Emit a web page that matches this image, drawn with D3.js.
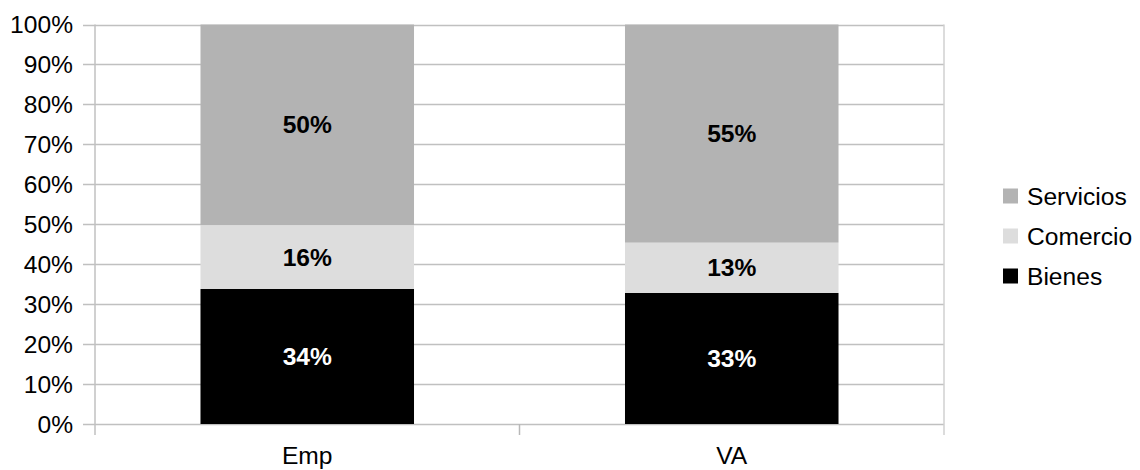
<!DOCTYPE html>
<html>
<head>
<meta charset="utf-8">
<script src="https://cdn.jsdelivr.net/npm/d3@7"></script>
<style>
  body { margin: 0; background: #fff; }
  svg { display: block; font-family: "Liberation Sans", Arial, sans-serif; }
</style>
</head>
<body>
<svg id="chart" width="1140" height="470"></svg>
<script>
// chart data
const categories = ['Emp', 'VA'];
const seriesNames = ['Bienes', 'Comercio', 'Servicios'];
const bienes = [0.338, 0.328];
const comercio = [0.160, 0.126];
const servicios = [0.502, 0.546];
const yTicks = [0, 0.1, 0.2, 0.3, 0.4, 0.5, 0.6, 0.7, 0.8, 0.9, 1];

const colors = { Bienes: '#000000', Comercio: '#dddddd', Servicios: '#b3b3b3' };
const labelColors = { Bienes: '#ffffff', Comercio: '#000000', Servicios: '#000000' };

const margin = { top: 24.5, left: 95, right: 196, bottom: 46 };
const width = 1140, height = 470;
const fontSize = 24.6;

const svg = d3.select('#chart');

const x = d3.scaleBand()
  .domain(categories)
  .range([margin.left, width - margin.right])
  .paddingInner(0.497)
  .paddingOuter(0.2485);

const y = d3.scaleLinear()
  .domain([0, 1])
  .range([height - margin.bottom, margin.top]);

const table = categories.map((c, i) => ({
  cat: c, Bienes: bienes[i], Comercio: comercio[i], Servicios: servicios[i]
}));
const stacked = d3.stack().keys(seriesNames)(table);

// gridlines + left ticks
svg.append('g')
  .selectAll('line')
  .data(yTicks)
  .join('line')
  .attr('x1', margin.left - 12)
  .attr('x2', width - margin.right)
  .attr('y1', d => Math.round(y(d)) + 0.5)
  .attr('y2', d => Math.round(y(d)) + 0.5)
  .attr('stroke', '#c0c0c0')
  .attr('stroke-width', 1.5);

// right border
svg.append('line')
  .attr('x1', width - margin.right).attr('x2', width - margin.right)
  .attr('y1', y(1)).attr('y2', y(0) + 11)
  .attr('stroke', '#d0d0d0')
  .attr('stroke-width', 1.5);

// y axis line
svg.append('line')
  .attr('x1', margin.left).attr('x2', margin.left)
  .attr('y1', y(1)).attr('y2', y(0) + 11)
  .attr('stroke', '#c0c0c0')
  .attr('stroke-width', 1.5);

// x category ticks
svg.append('g')
  .selectAll('line')
  .data(categories.slice(1))
  .join('line')
  .attr('x1', d => x(d) - x.step() * x.paddingInner() / 2)
  .attr('x2', d => x(d) - x.step() * x.paddingInner() / 2)
  .attr('y1', y(0))
  .attr('y2', y(0) + 11)
  .attr('stroke', '#b8b8b8')
  .attr('stroke-width', 1.5);

// y labels
svg.append('g')
  .selectAll('text')
  .data(yTicks)
  .join('text')
  .attr('x', 73)
  .attr('y', d => y(d))
  .attr('dy', '0.35em')
  .attr('text-anchor', 'end')
  .attr('font-size', fontSize)
  .attr('fill', '#000')
  .text(d3.format('.0%'));

// bars
const layer = svg.append('g')
  .selectAll('g')
  .data(stacked)
  .join('g')
  .attr('fill', d => colors[d.key]);

layer.selectAll('rect')
  .data(d => d)
  .join('rect')
  .attr('x', d => x(d.data.cat))
  .attr('width', x.bandwidth())
  .attr('y', d => y(d[1]))
  .attr('height', d => y(d[0]) - y(d[1]));

// value labels
svg.append('g')
  .selectAll('g')
  .data(stacked)
  .join('g')
  .attr('fill', d => labelColors[d.key])
  .selectAll('text')
  .data(d => d)
  .join('text')
  .attr('x', d => x(d.data.cat) + x.bandwidth() / 2)
  .attr('y', d => (y(d[0]) + y(d[1])) / 2)
  .attr('dy', '0.35em')
  .attr('text-anchor', 'middle')
  .attr('font-size', fontSize)
  .attr('font-weight', 'bold')
  .text(d => d3.format('.0%')(d[1] - d[0]));

// x labels
svg.append('g')
  .selectAll('text')
  .data(categories)
  .join('text')
  .attr('x', d => x(d) + x.bandwidth() / 2)
  .attr('y', 464)
  .attr('text-anchor', 'middle')
  .attr('font-size', fontSize)
  .attr('fill', '#000')
  .text(d => d);

// legend
const legend = svg.append('g')
  .selectAll('g')
  .data(seriesNames.slice().reverse())
  .join('g')
  .attr('transform', (d, i) => `translate(1003,${196 + i * 40})`);

legend.append('rect')
  .attr('x', 0).attr('y', -7.5)
  .attr('width', 15).attr('height', 15)
  .attr('fill', d => colors[d]);

legend.append('text')
  .attr('x', 24)
  .attr('dy', '0.35em')
  .attr('font-size', fontSize)
  .attr('fill', '#000')
  .text(d => d);
</script>
</body>
</html>
